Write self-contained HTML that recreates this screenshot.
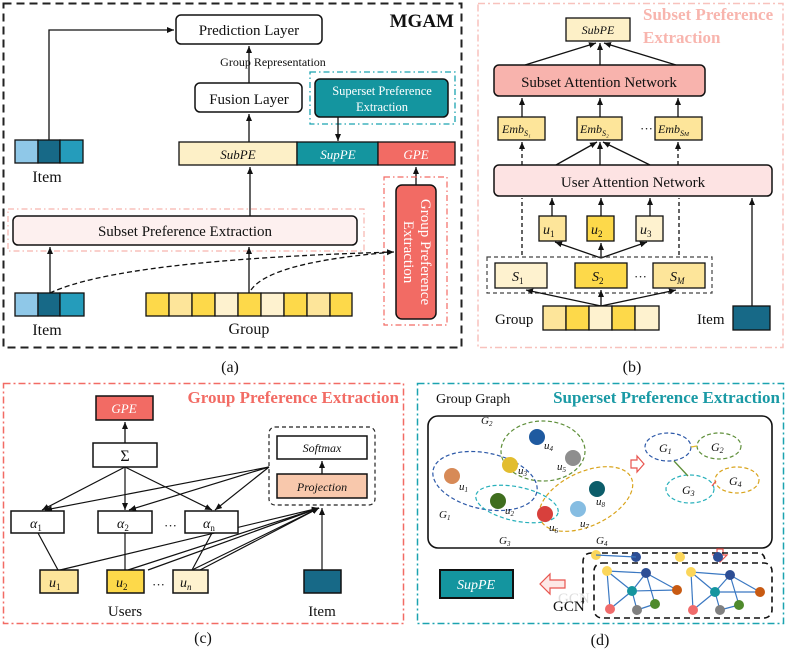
<!DOCTYPE html>
<html><head><meta charset="utf-8"><style>
body{margin:0;background:#fff}
svg{display:block}
text{font-family:"Liberation Serif",serif;fill:#111}
</style></head><body>
<svg width="789" height="654" viewBox="0 0 789 654" xmlns="http://www.w3.org/2000/svg">
<defs>
<marker id="a" markerWidth="8" markerHeight="8" refX="7" refY="4" orient="auto" markerUnits="userSpaceOnUse"><path d="M0,1 L7,4 L0,7z" fill="#111"/></marker>
</defs>
<!-- ===== (a) ===== -->
<rect x="3.5" y="3.5" width="458" height="344" fill="none" stroke="#222" stroke-width="2" stroke-dasharray="8,5"/>
<text x="454" y="27" font-size="19" font-weight="bold" text-anchor="end">MGAM</text>
<rect x="176" y="15" width="146" height="29" rx="5" fill="#fff" stroke="#111" stroke-width="1.5"/>
<text x="249" y="35" font-size="15" text-anchor="middle">Prediction Layer</text>
<text x="273" y="66" font-size="12" text-anchor="middle">Group Representation</text>
<line x1="249" y1="83" x2="249" y2="46" stroke="#111" stroke-width="1.3" marker-end="url(#a)"/>
<rect x="195" y="83" width="107" height="29" rx="5" fill="#fff" stroke="#111" stroke-width="1.5"/>
<text x="249" y="104" font-size="15" text-anchor="middle">Fusion Layer</text>
<line x1="249" y1="142" x2="249" y2="114" stroke="#111" stroke-width="1.3" marker-end="url(#a)"/>
<rect x="310" y="72" width="145" height="52" fill="none" stroke="#1ba3b0" stroke-width="1.3" stroke-dasharray="6,3,1.5,3"/>
<rect x="315" y="79" width="133" height="38" rx="5" fill="#14959f" stroke="#111" stroke-width="1.5"/>
<text x="382" y="95" font-size="12.5" text-anchor="middle" style="fill:#fff">Superset Preference</text>
<text x="382" y="111" font-size="12.5" text-anchor="middle" style="fill:#fff">Extraction</text>
<line x1="338" y1="117" x2="338" y2="141" stroke="#111" stroke-width="1.3" marker-end="url(#a)"/>
<rect x="179" y="142" width="118" height="23" fill="#fdf0c7" stroke="#111" stroke-width="1.3"/>
<rect x="297" y="142" width="81" height="23" fill="#14959f" stroke="#111" stroke-width="1.3"/>
<rect x="378" y="142" width="77" height="23" fill="#f26b64" stroke="#111" stroke-width="1.3"/>
<text x="238" y="159" font-size="13" font-style="italic" text-anchor="middle">SubPE</text>
<text x="338" y="159" font-size="13" font-style="italic" text-anchor="middle" style="fill:#fff">SupPE</text>
<text x="416" y="159" font-size="13" font-style="italic" text-anchor="middle" style="fill:#fff">GPE</text>
<!-- item top -->
<rect x="15" y="140" width="23" height="23" fill="#8fc8e8" stroke="#111" stroke-width="1.3"/>
<rect x="38" y="140" width="22" height="23" fill="#176987" stroke="#111" stroke-width="1.3"/>
<rect x="60" y="140" width="23" height="23" fill="#259cbb" stroke="#111" stroke-width="1.3"/>
<text x="47" y="182" font-size="16" text-anchor="middle">Item</text>
<polyline points="49,140 49,30 174,30" fill="none" stroke="#111" stroke-width="1.3" marker-end="url(#a)"/>
<!-- subset -->
<rect x="8" y="209" width="356" height="42" fill="none" stroke="#f7b4ae" stroke-width="1.2" stroke-dasharray="6,3,1.5,3"/>
<rect x="13" y="216" width="344" height="29" rx="5" fill="#fdf0ef" stroke="#111" stroke-width="1.5"/>
<text x="185" y="236" font-size="15" text-anchor="middle">Subset Preference Extraction</text>
<line x1="250" y1="216" x2="250" y2="167" stroke="#111" stroke-width="1.3" marker-end="url(#a)"/>
<line x1="416" y1="185" x2="416" y2="167" stroke="#111" stroke-width="1.3" marker-end="url(#a)"/>
<!-- GPE vertical -->
<rect x="384" y="177" width="63" height="148" fill="none" stroke="#f26b64" stroke-width="1.2" stroke-dasharray="6,3,1.5,3"/>
<rect x="396" y="185" width="40" height="134" rx="6" fill="#f26b64" stroke="#111" stroke-width="1.5"/>
<text transform="translate(421,252) rotate(90)" font-size="15" text-anchor="middle" style="fill:#fff">Group  Preference</text>
<text transform="translate(404,252) rotate(90)" font-size="15" text-anchor="middle" style="fill:#fff">Extraction</text>
<!-- item bottom -->
<rect x="15" y="293" width="23" height="23" fill="#8fc8e8" stroke="#111" stroke-width="1.3"/>
<rect x="38" y="293" width="22" height="23" fill="#176987" stroke="#111" stroke-width="1.3"/>
<rect x="60" y="293" width="24" height="23" fill="#259cbb" stroke="#111" stroke-width="1.3"/>
<text x="47" y="335" font-size="16" text-anchor="middle">Item</text>
<line x1="50" y1="293" x2="50" y2="247" stroke="#111" stroke-width="1.3" marker-end="url(#a)"/>
<g stroke="#111" stroke-width="1.3">
<rect x="146" y="293" width="23" height="23" fill="#fdd94a"/>
<rect x="169" y="293" width="23" height="23" fill="#fde59a"/>
<rect x="192" y="293" width="23" height="23" fill="#fdd94a"/>
<rect x="215" y="293" width="23" height="23" fill="#fef2cf"/>
<rect x="238" y="293" width="23" height="23" fill="#fdd94a"/>
<rect x="261" y="293" width="23" height="23" fill="#fef2cf"/>
<rect x="284" y="293" width="23" height="23" fill="#fdd94a"/>
<rect x="307" y="293" width="23" height="23" fill="#fde59a"/>
<rect x="330" y="293" width="22" height="23" fill="#fdd94a"/>
</g>
<text x="249" y="334" font-size="16" text-anchor="middle">Group</text>
<line x1="249" y1="293" x2="249" y2="247" stroke="#111" stroke-width="1.3" marker-end="url(#a)"/>
<path d="M50,293 Q120,260 394,252" fill="none" stroke="#111" stroke-width="1.3" stroke-dasharray="5,3" marker-end="url(#a)"/>
<path d="M251,290 Q270,262 394,252" fill="none" stroke="#111" stroke-width="1.3" stroke-dasharray="5,3"/>
<text x="230" y="372" font-size="16" text-anchor="middle">(a)</text>

<!-- ===== (b) ===== -->
<rect x="478" y="3.5" width="305" height="344" fill="none" stroke="#f8c2bd" stroke-width="1.5" stroke-dasharray="7,3,2,3"/>
<text x="643" y="20" font-size="17" font-weight="bold" style="fill:#f8b5ae">Subset Preference</text>
<text x="643" y="43" font-size="17" font-weight="bold" style="fill:#f8b5ae">Extraction</text>
<rect x="566" y="18" width="64" height="23" fill="#fdf0c7" stroke="#111" stroke-width="1.3"/>
<text x="598" y="34" font-size="12" font-style="italic" text-anchor="middle">SubPE</text>
<g stroke="#111" stroke-width="1.3" fill="none">
<line x1="525" y1="65" x2="596" y2="43" marker-end="url(#a)"/>
<line x1="600" y1="65" x2="600" y2="43" marker-end="url(#a)"/>
<line x1="676" y1="65" x2="604" y2="43" marker-end="url(#a)"/>
</g>
<rect x="494" y="65" width="211" height="31" rx="5" fill="#f8b3ad" stroke="#111" stroke-width="1.5"/>
<text x="599" y="87" font-size="15" text-anchor="middle">Subset Attention Network</text>
<g stroke="#111" stroke-width="1.3">
<line x1="522" y1="117" x2="522" y2="98" marker-end="url(#a)"/>
<line x1="600" y1="117" x2="600" y2="98" marker-end="url(#a)"/>
<line x1="678" y1="117" x2="678" y2="98" marker-end="url(#a)"/>
</g>
<g stroke="#111" stroke-width="1.3" fill="#fde59a">
<rect x="498" y="117" width="47" height="23"/>
<rect x="577" y="117" width="45" height="23"/>
<rect x="655" y="117" width="47" height="23"/>
</g>
<g font-size="12" font-style="italic">
<text x="502" y="133">Emb<tspan font-size="8" dy="3">S₁</tspan></text>
<text x="580" y="133">Emb<tspan font-size="8" dy="3">S₂</tspan></text>
<text x="658" y="133">Emb<tspan font-size="8" dy="3">S<tspan font-size="6">M</tspan></tspan></text>
</g>
<text x="640" y="133" font-size="13">···</text>
<g stroke="#111" stroke-width="1.3" fill="none">
<line x1="522" y1="165" x2="522" y2="142" stroke-dasharray="4,3" marker-end="url(#a)"/>
<line x1="678" y1="165" x2="678" y2="142" stroke-dasharray="4,3" marker-end="url(#a)"/>
<line x1="556" y1="165" x2="597" y2="142" marker-end="url(#a)"/>
<line x1="600" y1="165" x2="600" y2="142" marker-end="url(#a)"/>
<line x1="650" y1="165" x2="603" y2="142" marker-end="url(#a)"/>
</g>
<rect x="494" y="165" width="278" height="31" rx="5" fill="#fde3e3" stroke="#111" stroke-width="1.5"/>
<text x="633" y="187" font-size="15" text-anchor="middle">User Attention Network</text>
<g stroke="#111" stroke-width="1.3" fill="none">
<line x1="522" y1="255" x2="522" y2="198" stroke-dasharray="4,3"/>
<line x1="679" y1="255" x2="679" y2="198" stroke-dasharray="4,3"/>
<line x1="552" y1="216" x2="552" y2="198" marker-end="url(#a)"/>
<line x1="601" y1="216" x2="601" y2="198" marker-end="url(#a)"/>
<line x1="650" y1="216" x2="650" y2="198" marker-end="url(#a)"/>
<line x1="752" y1="306" x2="752" y2="198" marker-end="url(#a)"/>
<line x1="601" y1="258" x2="555" y2="242" marker-end="url(#a)"/>
<line x1="601" y1="258" x2="601" y2="243" marker-end="url(#a)"/>
<line x1="601" y1="258" x2="647" y2="242" marker-end="url(#a)"/>
</g>
<g stroke="#111" stroke-width="1.3">
<rect x="539" y="216" width="27" height="25" fill="#fde59a"/>
<rect x="587" y="216" width="27" height="25" fill="#fdd94a"/>
<rect x="636" y="216" width="27" height="25" fill="#fef2cf"/>
</g>
<g font-size="14" font-style="italic">
<text x="543" y="234">u<tspan font-size="9" dy="3" font-style="normal">1</tspan></text>
<text x="591" y="234">u<tspan font-size="9" dy="3" font-style="normal">2</tspan></text>
<text x="640" y="234">u<tspan font-size="9" dy="3" font-style="normal">3</tspan></text>
</g>
<rect x="487" y="257" width="225" height="36" fill="none" stroke="#444" stroke-width="1.2" stroke-dasharray="4,3"/>
<g stroke="#111" stroke-width="1.3">
<rect x="495" y="263" width="52" height="25" fill="#fef2cf"/>
<rect x="575" y="263" width="52" height="25" fill="#fdd94a"/>
<rect x="653" y="263" width="52" height="25" fill="#fde59a"/>
</g>
<g font-size="14" font-style="italic">
<text x="512" y="281">S<tspan font-size="9" dy="3" font-style="normal">1</tspan></text>
<text x="592" y="281">S<tspan font-size="9" dy="3" font-style="normal">2</tspan></text>
<text x="670" y="281">S<tspan font-size="9" dy="3">M</tspan></text>
</g>
<text x="634" y="281" font-size="13">···</text>
<g stroke="#111" stroke-width="1.3" fill="none">
<line x1="601" y1="306" x2="526" y2="290" marker-end="url(#a)"/>
<line x1="601" y1="306" x2="601" y2="290" marker-end="url(#a)"/>
<line x1="601" y1="306" x2="676" y2="290" marker-end="url(#a)"/>
</g>
<text x="495" y="324" font-size="15">Group</text>
<g stroke="#111" stroke-width="1.3">
<rect x="543" y="306" width="23" height="24" fill="#fde59a"/>
<rect x="566" y="306" width="23" height="24" fill="#fdd94a"/>
<rect x="589" y="306" width="23" height="24" fill="#fef2cf"/>
<rect x="612" y="306" width="23" height="24" fill="#fdd94a"/>
<rect x="635" y="306" width="24" height="24" fill="#fef2cf"/>
</g>
<text x="697" y="324" font-size="15">Item</text>
<rect x="733" y="306" width="37" height="24" fill="#176987" stroke="#111" stroke-width="1.3"/>
<text x="632" y="372" font-size="16" text-anchor="middle">(b)</text>

<!-- ===== (c) ===== -->
<rect x="3.5" y="383.5" width="400" height="240" fill="none" stroke="#f26b64" stroke-width="1.5" stroke-dasharray="7,3,2,3"/>
<text x="399" y="403" font-size="17" font-weight="bold" text-anchor="end" style="fill:#f26b64">Group Preference Extraction</text>
<rect x="96" y="396" width="57" height="24" fill="#f26b64" stroke="#111" stroke-width="1.5"/>
<text x="124" y="413" font-size="13" font-style="italic" text-anchor="middle" style="fill:#fff">GPE</text>
<line x1="125" y1="443" x2="125" y2="422" stroke="#111" stroke-width="1.3" marker-end="url(#a)"/>
<rect x="93" y="443" width="64" height="24" fill="#fff" stroke="#111" stroke-width="1.5"/>
<text x="125" y="461" font-size="16" text-anchor="middle">Σ</text>
<rect x="269" y="427" width="106" height="78" rx="6" fill="none" stroke="#222" stroke-width="1.2" stroke-dasharray="4,3"/>
<rect x="277" y="436" width="90" height="23" fill="#fff" stroke="#111" stroke-width="1.5"/>
<text x="322" y="452" font-size="12" font-style="italic" text-anchor="middle">Softmax</text>
<line x1="322" y1="474" x2="322" y2="461" stroke="#111" stroke-width="1.3" marker-end="url(#a)"/>
<rect x="277" y="474" width="90" height="24" fill="#f8c8ac" stroke="#111" stroke-width="1.5"/>
<text x="322" y="491" font-size="12" font-style="italic" text-anchor="middle">Projection</text>
<g stroke="#111" stroke-width="1.2" fill="none">
<line x1="125" y1="467" x2="42" y2="510" marker-end="url(#a)"/>
<line x1="125" y1="467" x2="125" y2="510" marker-end="url(#a)"/>
<line x1="125" y1="467" x2="212" y2="510" marker-end="url(#a)"/>
<line x1="269" y1="467" x2="45" y2="510" marker-end="url(#a)"/>
<line x1="269" y1="467" x2="129" y2="510" marker-end="url(#a)"/>
<line x1="269" y1="467" x2="215" y2="510" marker-end="url(#a)"/>
<line x1="38" y1="533" x2="58" y2="570"/>
<line x1="125" y1="533" x2="125" y2="570"/>
<line x1="212" y1="533" x2="192" y2="570"/>
<line x1="60" y1="570" x2="319" y2="508" marker-end="url(#a)"/>
<line x1="128" y1="570" x2="319" y2="508" marker-end="url(#a)"/>
<line x1="148" y1="570" x2="319" y2="508" marker-end="url(#a)"/>
<line x1="192" y1="570" x2="319" y2="508" marker-end="url(#a)"/>
<line x1="200" y1="570" x2="319" y2="508" marker-end="url(#a)"/>
<line x1="322" y1="570" x2="322" y2="508" marker-end="url(#a)"/>
</g>
<g stroke="#111" stroke-width="1.5" fill="#fff">
<rect x="11" y="511" width="53" height="22"/>
<rect x="98" y="511" width="54" height="22"/>
<rect x="185" y="511" width="53" height="22"/>
</g>
<g font-size="14" font-style="italic">
<text x="30" y="528">α<tspan font-size="9" dy="3" font-style="normal">1</tspan></text>
<text x="117" y="528">α<tspan font-size="9" dy="3" font-style="normal">2</tspan></text>
<text x="203" y="528">α<tspan font-size="9" dy="3" font-style="normal">n</tspan></text>
</g>
<text x="164" y="530" font-size="13">···</text>
<g stroke="#111" stroke-width="1.5">
<rect x="40" y="570" width="38" height="23" fill="#fde59a"/>
<rect x="107" y="570" width="37" height="23" fill="#fdd94a"/>
<rect x="173" y="570" width="35" height="23" fill="#fef2cf"/>
<rect x="304" y="570" width="37" height="23" fill="#176987"/>
</g>
<g font-size="14" font-style="italic">
<text x="49" y="587">u<tspan font-size="9" dy="3" font-style="normal">1</tspan></text>
<text x="116" y="587">u<tspan font-size="9" dy="3" font-style="normal">2</tspan></text>
<text x="180" y="587">u<tspan font-size="9" dy="3">n</tspan></text>
</g>
<text x="152" y="589" font-size="13">···</text>
<text x="125" y="616" font-size="15" text-anchor="middle">Users</text>
<text x="322" y="616" font-size="15" text-anchor="middle">Item</text>
<text x="203" y="643" font-size="16" text-anchor="middle">(c)</text>

<!-- ===== (d) ===== -->
<rect x="417.5" y="383.5" width="366" height="240" fill="none" stroke="#1ba3b0" stroke-width="1.5" stroke-dasharray="7,3,2,3"/>
<text x="436" y="403" font-size="14">Group Graph</text>
<text x="780" y="403" font-size="17" font-weight="bold" text-anchor="end" style="fill:#1a9aa5">Superset Preference Extraction</text>
<rect x="428" y="416" width="344" height="132" rx="10" fill="#fff" stroke="#111" stroke-width="1.6"/>
<g fill="none" stroke-width="1.2" stroke-dasharray="4,2.5">
<ellipse cx="543" cy="451" rx="42" ry="30" stroke="#5f8f3a"/>
<ellipse cx="485" cy="481" rx="53" ry="28" stroke="#2d59a8" transform="rotate(12 485 481)"/>
<ellipse cx="517" cy="504" rx="42" ry="17" stroke="#28b0bb" transform="rotate(12 517 504)"/>
<ellipse cx="586" cy="499" rx="50" ry="27" stroke="#d9a41c" transform="rotate(-25 586 499)"/>
</g>
<circle cx="537" cy="437" r="8" fill="#1f5aa0"/>
<circle cx="510" cy="465" r="8" fill="#e2bd2f"/>
<circle cx="573" cy="458" r="8" fill="#8e8e8e"/>
<circle cx="452" cy="476" r="8" fill="#d78a57"/>
<circle cx="498" cy="501" r="8" fill="#3f6e1e"/>
<circle cx="545" cy="514" r="8" fill="#d8403c"/>
<circle cx="578" cy="509" r="8" fill="#86bde2"/>
<circle cx="597" cy="489" r="8" fill="#0c5d6a"/>
<g font-size="11" font-style="italic">
<text x="544" y="449">u<tspan font-size="7" dy="2">4</tspan></text>
<text x="518" y="474">u<tspan font-size="7" dy="2">3</tspan></text>
<text x="557" y="470">u<tspan font-size="7" dy="2">5</tspan></text>
<text x="459" y="490">u<tspan font-size="7" dy="2">1</tspan></text>
<text x="505" y="514">u<tspan font-size="7" dy="2">2</tspan></text>
<text x="549" y="531">u<tspan font-size="7" dy="2">6</tspan></text>
<text x="580" y="527">u<tspan font-size="7" dy="2">7</tspan></text>
<text x="596" y="505">u<tspan font-size="7" dy="2">8</tspan></text>
<text x="481" y="424">G<tspan font-size="7" dy="2">2</tspan></text>
<text x="439" y="518">G<tspan font-size="7" dy="2">1</tspan></text>
<text x="499" y="544">G<tspan font-size="7" dy="2">3</tspan></text>
<text x="596" y="544">G<tspan font-size="7" dy="2">4</tspan></text>
</g>
<path d="M631,460 h6 v-4 l7,8 l-7,8 v-4 h-6z" fill="#fff" stroke="#e8554f" stroke-width="1.2"/>
<g fill="none" stroke-width="1.2" stroke-dasharray="4,2.5">
<ellipse cx="668" cy="447" rx="23" ry="14" stroke="#2d59a8"/>
<ellipse cx="719" cy="446" rx="22" ry="13" stroke="#5f8f3a"/>
<ellipse cx="690" cy="489" rx="24" ry="14" stroke="#28b0bb"/>
<ellipse cx="737" cy="480" rx="22" ry="13" stroke="#d9a41c"/>
</g>
<line x1="691" y1="447" x2="697" y2="446" stroke="#e2bd2f" stroke-width="1.3"/>
<line x1="674" y1="461" x2="688" y2="476" stroke="#5f8f3a" stroke-width="1.3"/>
<line x1="712" y1="486" x2="716" y2="481" stroke="#e8554f" stroke-width="1.3"/>
<g font-size="12" font-style="italic">
<text x="659" y="452">G<tspan font-size="8" dy="2">1</tspan></text>
<text x="711" y="451">G<tspan font-size="8" dy="2">2</tspan></text>
<text x="682" y="494">G<tspan font-size="8" dy="2">3</tspan></text>
<text x="729" y="485">G<tspan font-size="8" dy="2">4</tspan></text>
</g>
<path d="M717,549 h6 v6 h4 l-7,7 l-7,-7 h4z" fill="#fff" stroke="#e8554f" stroke-width="1.2"/>
<!-- GCN -->
<path d="M592,553 H758 Q765,553 765,562" fill="none" stroke="#111" stroke-width="1.6" stroke-dasharray="6,4"/>
<path d="M592,553 Q583,553 583,562 V607" fill="none" stroke="#111" stroke-width="1.6" stroke-dasharray="6,4"/>
<circle cx="596" cy="555" r="5" fill="#fbd65a"/><circle cx="636" cy="557" r="5" fill="#2d4e95"/>
<circle cx="680" cy="557" r="5" fill="#fbd65a"/><circle cx="718" cy="557" r="5" fill="#2d4e95"/>
<line x1="596" y1="555" x2="636" y2="557" stroke="#3a78c2" stroke-width="1.2"/>
<rect x="594" y="563" width="178" height="55" rx="8" fill="#fff" stroke="#111" stroke-width="1.6" stroke-dasharray="6,4"/>
<g stroke="#3a78c2" stroke-width="1.2">
<line x1="607" y1="571" x2="646" y2="573"/><line x1="607" y1="571" x2="632" y2="591"/><line x1="607" y1="571" x2="610" y2="609"/>
<line x1="646" y1="573" x2="677" y2="590"/><line x1="646" y1="573" x2="655" y2="604"/><line x1="632" y1="591" x2="677" y2="590"/>
<line x1="632" y1="591" x2="610" y2="609"/><line x1="632" y1="591" x2="637" y2="610"/><line x1="632" y1="591" x2="646" y2="573"/><line x1="637" y1="610" x2="655" y2="604"/>
<line x1="691" y1="572" x2="730" y2="575"/><line x1="691" y1="572" x2="715" y2="592"/><line x1="691" y1="572" x2="693" y2="610"/>
<line x1="730" y1="575" x2="760" y2="592"/><line x1="730" y1="575" x2="739" y2="605"/><line x1="715" y1="592" x2="760" y2="592"/>
<line x1="715" y1="592" x2="693" y2="610"/><line x1="715" y1="592" x2="720" y2="610"/><line x1="715" y1="592" x2="730" y2="575"/><line x1="720" y1="610" x2="739" y2="605"/>
</g>
<circle cx="607" cy="571" r="5" fill="#fbd65a"/><circle cx="646" cy="573" r="5" fill="#2d4e95"/><circle cx="632" cy="591" r="5" fill="#14959f"/>
<circle cx="677" cy="590" r="5" fill="#c85a12"/><circle cx="610" cy="609" r="5" fill="#f06b6b"/><circle cx="637" cy="610" r="5" fill="#808080"/><circle cx="655" cy="604" r="5" fill="#4f8a2c"/>
<circle cx="691" cy="572" r="5" fill="#fbd65a"/><circle cx="730" cy="575" r="5" fill="#2d4e95"/><circle cx="715" cy="592" r="5" fill="#14959f"/>
<circle cx="760" cy="592" r="5" fill="#c85a12"/><circle cx="693" cy="610" r="5" fill="#f06b6b"/><circle cx="720" cy="610" r="5" fill="#808080"/><circle cx="739" cy="605" r="5" fill="#4f8a2c"/>
<text x="558" y="603" font-size="15" style="fill:#ddd">GCN</text>
<text x="553" y="611" font-size="15">GCN</text>
<path d="M565,580 h-15 v-6 l-10,10 l10,10 v-6 h15z" fill="#fde8e6" stroke="#e8554f" stroke-width="1.2"/>
<rect x="440" y="570" width="73" height="28" fill="#14959f" stroke="#111" stroke-width="2"/>
<text x="476" y="589" font-size="14" font-style="italic" text-anchor="middle" style="fill:#fff">SupPE</text>
<text x="600" y="645" font-size="16" text-anchor="middle">(d)</text>
</svg>
</body></html>
